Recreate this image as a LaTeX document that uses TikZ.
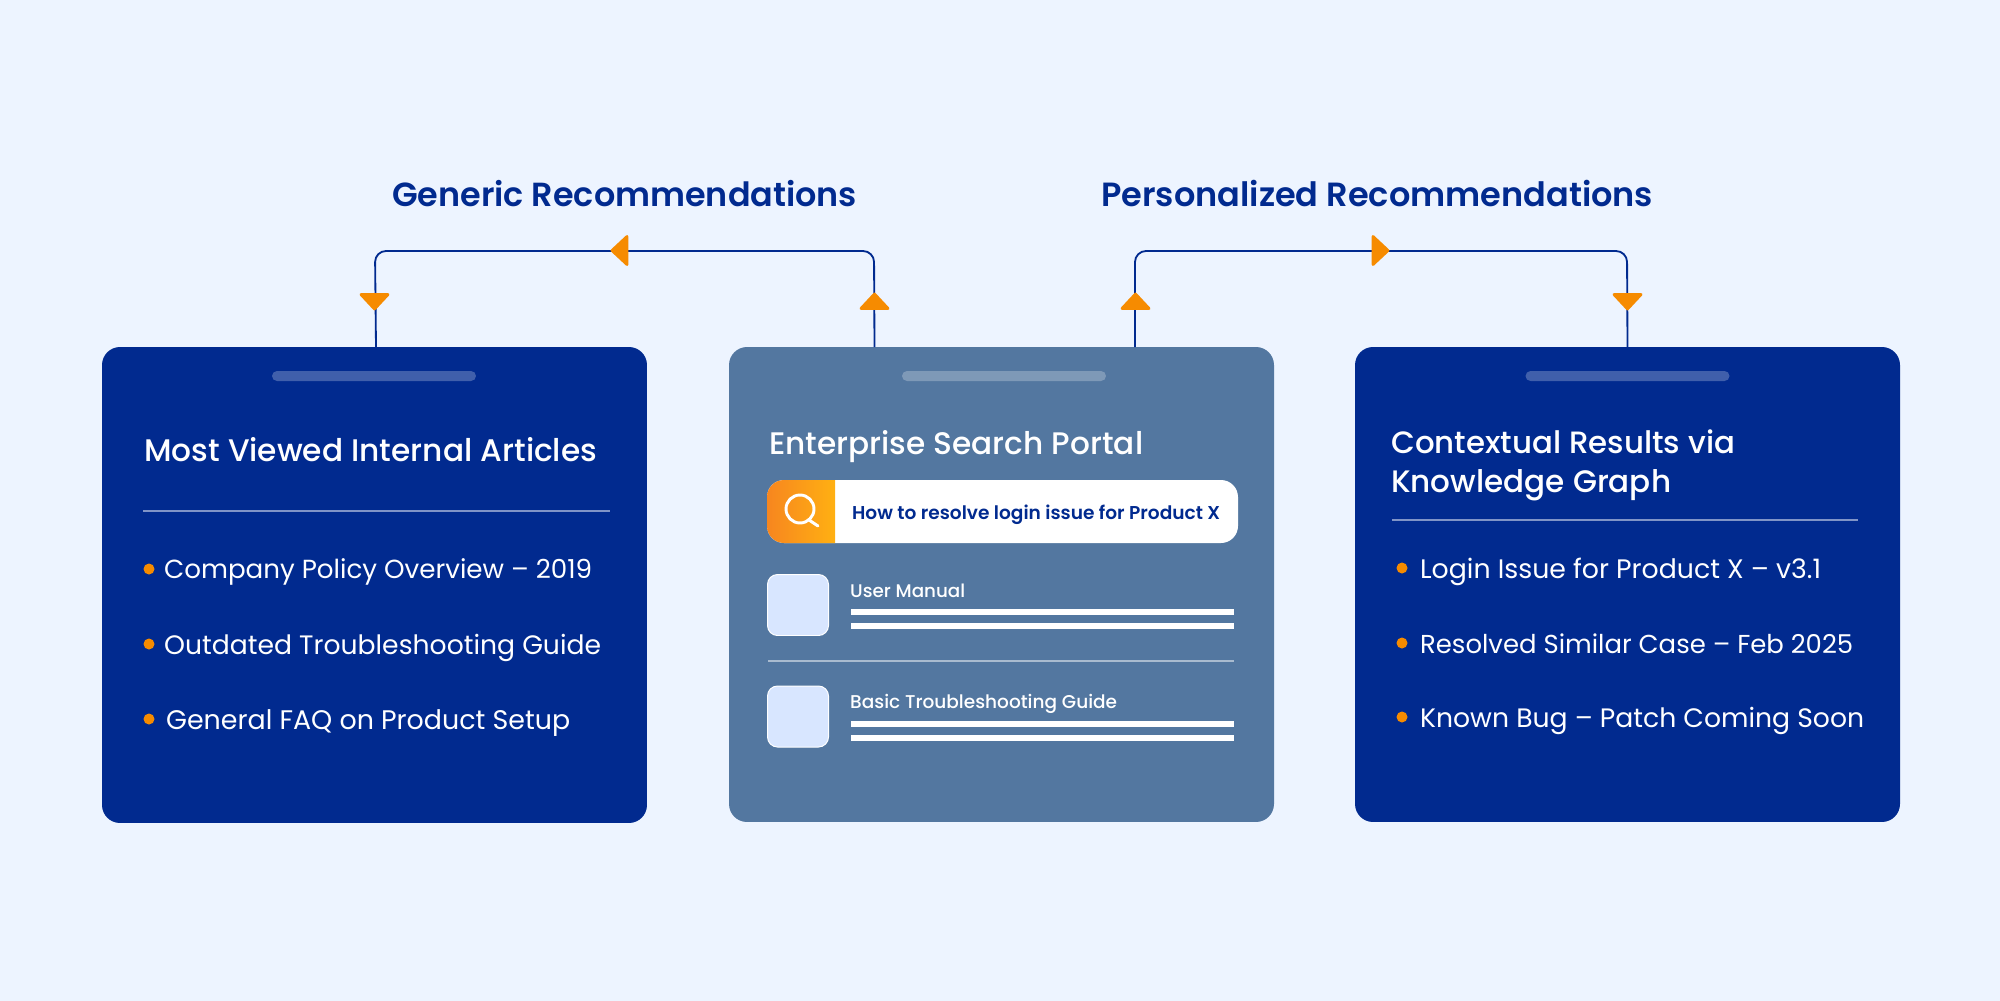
\documentclass[tikz,border=0pt]{standalone}
\usepackage{graphicx}
\usepackage{fontspec}
\setmainfont{Poppins}
\newfontfamily\heavyf{Poppins}[UprightFont=* SemiBold]
\newfontfamily\semi{Poppins}[UprightFont=* Medium]
\newfontfamily\med{Poppins}[UprightFont=* Medium]
\usetikzlibrary{calc}
\definecolor{bgc}{HTML}{EDF4FF}
\definecolor{navy}{HTML}{012A8F}
\definecolor{steel}{HTML}{5377A0}
\definecolor{amber}{HTML}{F68B00}
\definecolor{tile}{HTML}{D8E6FF}
\definecolor{gradL}{HTML}{F7861F}
\definecolor{gradR}{HTML}{FFB012}
\newlength\pxu \setlength\pxu{.05cm}
\newcommand\fitw[2]{\resizebox{#1\pxu}{!}{\fontsize{20}{24}\selectfont #2}}
\tikzset{
  card/.style={rectangle,rounded corners=.9cm,minimum width=27.25cm,inner sep=0pt},
  handle/.style={rectangle,rounded corners=.25cm,minimum width=10.2cm,minimum height=.5cm,fill=white,fill opacity=.25,inner sep=0pt},
  lab/.style={anchor=base west,inner sep=0pt,text=white},
  head/.style={lab,text=navy},
  conn/.style={draw=navy,line width=2.6pt,rounded corners=.55cm},
  tri/.style={fill=amber,draw=amber,line width=4pt,line join=round},
  rule/.style={draw=white,draw opacity=.5,line width=1.5pt},
  dot/.style={circle,fill=amber,minimum size=.55cm,inner sep=0pt},
  tilebox/.style={rectangle,rounded corners=.5cm,fill=tile,draw=white,line width=1.4pt,minimum size=3.05cm,inner sep=0pt},
  bar/.style={fill=white}
}
\begin{document}
\begin{tikzpicture}[x=.05cm,y=-.05cm]
\useasboundingbox (0,0) rectangle (2000,1000);
\fill[bgc] (-5,-5) rectangle (2005,1005);

% cards
\node[card,fill=navy,minimum height=23.8cm] (cardA) at (374.5,585) {};
\node[card,fill=steel,minimum height=23.75cm] (cardB) at (1001.5,584.5) {};
\node[card,fill=navy,minimum height=23.75cm] (cardC) at (1627.5,584.5) {};
\node[handle] (handA) at (374,376) {};
\node[handle] (handB) at (1004,376) {};
\node[handle] (handC) at (1627.5,376) {};

% connectors
\coordinate (sockA) at (376,347);
\coordinate (portalL) at (874.5,347);
\coordinate (portalR) at (1135,347);
\coordinate (topA) at (375,251);
\coordinate (topL) at (874,251);
\coordinate (topM) at (1135,251);
\coordinate (topC) at (1627,251);
\draw[conn] (sockA) -- (topA) -- (topL) -- (portalL);
\draw[conn] (portalR) -- (topM) -- (topC) -- (cardC.north);

% arrowheads
\path[tri] (612,250.5) -- (627,236.5) -- (627,264.5) -- cycle;
\path[tri] (1388,250.5) -- (1373,236.5) -- (1373,264.5) -- cycle;
\path[tri] (361,294.5) -- (388,294.5) -- (374.5,309) -- cycle;
\path[tri] (1614,294.5) -- (1641,294.5) -- (1627.5,309) -- cycle;
\path[tri] (861,308.5) -- (888,308.5) -- (874.5,294) -- cycle;
\path[tri] (1122,308.5) -- (1149,308.5) -- (1135.5,294) -- cycle;

% headings
\node[head] (genT) at (392,206) {\fitw{465}{\heavyf Generic Recommendations}};
\node[head] (perT) at (1101,206) {\fitw{552}{\heavyf Personalized Recommendations}};

% left card
\node[lab] (aT) at (144,461.5) {\fitw{453}{\semi Most Viewed Internal Articles}};
\draw[rule] (143,511) -- (610,511);
\node[dot] (a1d) at (149,569) {};
\node[dot] (a2d) at (149,644) {};
\node[dot] (a3d) at (149,719) {};
\node[lab] (a1) at (164,578) {\fitw{428}{Company Policy Overview – 2019}};
\node[lab] (a2) at (164,654) {\fitw{437}{Outdated Troubleshooting Guide}};
\node[lab] (a3) at (166,729) {\fitw{404}{General FAQ on Product Setup}};

% centre card
\node[lab] (bT) at (769,454) {\fitw{374}{\semi Enterprise Search Portal}};
\node[rectangle,rounded corners=.85cm,fill=white,minimum width=23.55cm,minimum height=3.15cm,inner sep=0pt] (search) at (1002.5,511.5) {};
\begin{scope}
  \clip[rounded corners=.85cm] (767,480) rectangle (900,543);
  \shade[left color=gradL,right color=gradR] (767,480) rectangle (835,543);
\end{scope}
\draw[white,line width=4.2pt] (800,509) circle[radius=.7cm];
\draw[white,line width=4.2pt,line cap=round] (809,520) -- (818,526);
\node[lab,text=navy] (q) at (852,519) {\fitw{368}{\heavyf How to resolve login issue for Product X}};

\node[tilebox] (t1) at (798,605) {};
\node[tilebox] (t2) at (798,716.5) {};
\node[lab] (m1) at (850,597) {\fitw{115}{\med User Manual}};
\node[lab] (m2) at (850,708) {\fitw{267}{\med Basic Troubleshooting Guide}};
\fill[bar] (851,609) rectangle (1234,615);
\fill[bar] (851,623) rectangle (1234,629);
\fill[bar] (851,721) rectangle (1234,727);
\fill[bar] (851,735) rectangle (1234,741);
\draw[rule] (768,661) -- (1234,661);

% right card
\node[lab] (cT1) at (1391,453) {\fitw{344}{\semi Contextual Results via}};
\node[lab] (cT2) at (1391,492) {\fitw{280}{\semi Knowledge Graph}};
\draw[rule] (1392,520) -- (1858,520);
\node[dot] (c1d) at (1402,568) {};
\node[dot] (c2d) at (1402,643) {};
\node[dot] (c3d) at (1402,717) {};
\node[lab] (c1) at (1420,578) {\fitw{401}{Login Issue for Product X – v3.1}};
\node[lab] (c2) at (1420,653) {\fitw{433}{Resolved Similar Case – Feb 2025}};
\node[lab] (c3) at (1420,727) {\fitw{444}{Known Bug – Patch Coming Soon}};
\end{tikzpicture}
\end{document}
